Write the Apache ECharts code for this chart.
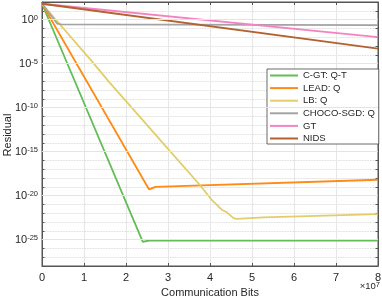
<!DOCTYPE html>
<html><head><meta charset="utf-8">
<script src="https://cdn.jsdelivr.net/npm/echarts@6/dist/echarts.min.js"></script>
<style>html,body{margin:0;padding:0;background:#fff}#c{width:382px;height:300px}</style>
</head><body><div id="c"></div>
<script>
// Legend / series names
const seriesNames = ['C-GT: Q-T', 'LEAD: Q', 'LB: Q', 'CHOCO-SGD: Q', 'GT', 'NIDS'];
const seriesColors = ['#62bd55', '#ff8a14', '#e2cd6a', '#a3a3a3', '#f583c0', '#b2622f'];
// x: communication bits in units of 1e7; y: residual
const cgtX = [0, 2.40, 2.55, 8];
const cgtY = [63, 5.6e-26, 7.9e-26, 7.9e-26];
const leadX = [0, 2.55, 2.70, 8];
const leadY = [63, 5.0e-20, 1.0e-19, 6.3e-19];
const lbX = [0, 1.2, 1.6, 2.1, 3.0, 3.76, 4.04, 4.20, 4.28, 4.40, 4.56, 4.63, 5.27, 8];
const lbY = [63, 1.6e-5, 7.9e-8, 1.6e-10, 2.0e-15, 1.6e-19, 3.3e-21, 5.8e-22, 2.5e-22, 1.26e-22, 2.8e-23, 2.3e-23, 3.3e-23, 7.9e-23];
const chocoX = [0, 0.36, 0.45, 8];
const chocoY = [63, 0.355, 0.28, 0.24];
const gtX = [0, 8];
const gtY = [63, 0.01];
const nidsX = [0, 8];
const nidsY = [63, 5.0e-4];
// axis ticks (decades, log10)
const yMinDecade = -28, yMaxDecade = 2;
const majorDecades = [0, -5, -10, -15, -20, -25];
const xMin = 0, xMax = 8;

const font = 'Liberation Sans, Arial, Helvetica, sans-serif';
const axisColor = '#555';
const textColor = '#262626';

const allX = [cgtX, leadX, lbX, chocoX, gtX, nidsX];
const allY = [cgtY, leadY, lbY, chocoY, gtY, nidsY];

const series = seriesNames.map((name, k) => ({
  name, type: 'line', xAxisIndex: 0, yAxisIndex: 0,
  data: allX[k].map((x, i) => [x, Math.log10(allY[k][i])]),
  showSymbol: false, symbol: 'none', z: 3,
  color: seriesColors[k],
  lineStyle: {width: 1.8, color: seriesColors[k]}
}));
series.unshift({
  name: '_grid', type: 'line', data: [], z: 1, silent: true,
  markLine: {
    silent: true, symbol: 'none', label: {show: false}, animation: false,
    lineStyle: {type: 'solid', color: '#e4e4e4', width: 1.2},
    data: majorDecades.map(d => ({yAxis: d}))
  }
});

const xBase = {
  type: 'value', min: xMin, max: xMax, interval: 1,
  axisLine: {show: true, onZero: false, lineStyle: {color: axisColor, width: 1}},
  axisTick: {show: true, inside: true, length: 3, lineStyle: {color: axisColor}}
};
const yBase = {
  type: 'value', min: yMinDecade, max: yMaxDecade, interval: 1,
  axisLine: {show: true, onZero: false, lineStyle: {color: axisColor, width: 1}},
  axisTick: {show: true, inside: true, length: 2.5, lineStyle: {color: axisColor}}
};

const option = {
  animation: false,
  textStyle: {fontFamily: font},
  grid: {left: 42, right: 4, top: 2, bottom: 34, show: true, borderColor: axisColor, borderWidth: 1,
         containLabel: false, outerBoundsMode: 'none'},
  legend: {
    data: seriesNames, orient: 'vertical', left: 267, top: 69,
    itemWidth: 28, itemHeight: 2, itemGap: 2.6, icon: 'rect',
    padding: [1.5, 4, 0.5, 3], borderColor: '#444', borderWidth: 0.8, backgroundColor: '#fff',
    textStyle: {fontSize: 9.5, color: textColor, fontFamily: font, lineHeight: 10}
  },
  xAxis: [
    Object.assign({}, xBase, {
      position: 'bottom',
      axisLabel: {fontSize: 11, color: textColor, margin: 6, fontFamily: font},
      splitLine: {show: true, lineStyle: {color: '#e6e6e6', width: 1}},
      name: 'Communication Bits', nameLocation: 'middle', nameGap: 19,
      nameTextStyle: {fontSize: 11, color: textColor, fontFamily: font}
    }),
    Object.assign({}, xBase, {position: 'top', axisLabel: {show: false}, splitLine: {show: false}})
  ],
  yAxis: [
    Object.assign({}, yBase, {
      position: 'left',
      axisLabel: {
        interval: 0, margin: 4, color: textColor, fontFamily: font,
        formatter: v => (Math.round(v) % 5 === 0 && v <= 0) ? '{b|10}{s|' + v + '}' : '',
        rich: {
          b: {fontSize: 11, color: textColor, fontFamily: font, lineHeight: 11, padding: [3, 0, 0, 0], verticalAlign: 'bottom'},
          s: {fontSize: 7.5, color: textColor, fontFamily: font, lineHeight: 8, verticalAlign: 'top'}
        }
      },
      splitLine: {show: true, lineStyle: {color: '#cdcdcd', type: 'dotted', width: 0.8}}
    }),
    Object.assign({}, yBase, {position: 'right', axisLabel: {show: false}, splitLine: {show: false}})
  ],
  graphic: [
    {type: 'text', x: 8, y: 135, rotation: Math.PI / 2,
     style: {text: 'Residual', fontSize: 11, fill: textColor, fontFamily: font, align: 'center', verticalAlign: 'middle'}},
    {type: 'text', x: 380, y: 286, z: 100,
     style: {
       text: '{a|\u00d710}{b|7}', align: 'right', verticalAlign: 'middle', fill: textColor, fontFamily: font,
       rich: {
         a: {fontSize: 9.5, fill: textColor, fontFamily: font, lineHeight: 10, padding: [3, 0, 0, 0], verticalAlign: 'bottom'},
         b: {fontSize: 7.5, fill: textColor, fontFamily: font, lineHeight: 8, verticalAlign: 'top'}
       }
     }}
  ],
  series
};
const chart = echarts.init(document.getElementById('c'), null, {renderer: 'canvas'});
chart.setOption(option);
</script></body></html>
